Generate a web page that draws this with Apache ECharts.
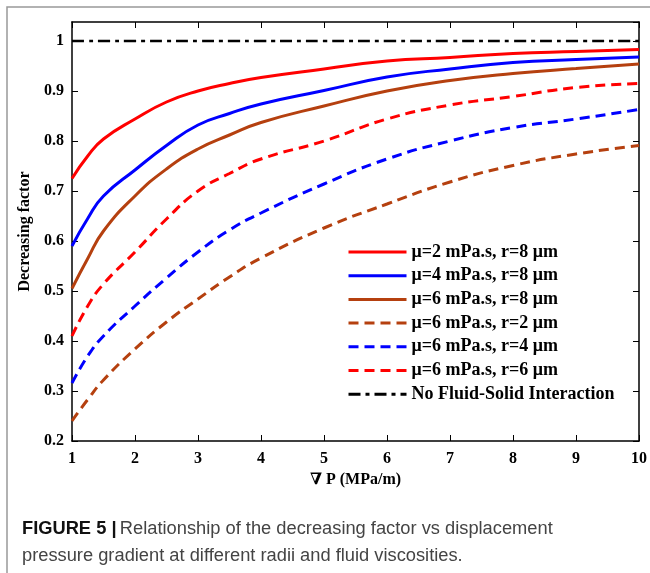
<!DOCTYPE html>
<html>
<head>
<meta charset="utf-8">
<script src="https://cdn.jsdelivr.net/npm/echarts@6/dist/echarts.min.js"></script>
<style>
html,body{margin:0;padding:0;background:#fff;}
#chart{width:650px;height:573px;}
</style>
</head>
<body>
<div id="chart"></div>
<script>
const xValues = [1, 1.25, 1.5, 2, 2.5, 3, 3.5, 4, 5, 6, 7, 8, 9, 10];
const mu2r8 = [0.725, 0.77, 0.804, 0.844, 0.878, 0.900, 0.915, 0.927, 0.944, 0.960, 0.967, 0.975, 0.979, 0.983];
const mu4r8 = [0.59, 0.645, 0.69, 0.742, 0.791, 0.832, 0.855, 0.874, 0.901, 0.928, 0.944, 0.957, 0.963, 0.968];
const mu6r8 = [0.505, 0.565, 0.62, 0.69, 0.744, 0.784, 0.812, 0.837, 0.870, 0.900, 0.921, 0.935, 0.945, 0.954];
const mu6r2 = [0.24, 0.283, 0.322, 0.384, 0.438, 0.484, 0.528, 0.566, 0.626, 0.674, 0.718, 0.751, 0.774, 0.791];
const mu6r4 = [0.316, 0.37, 0.41, 0.47, 0.526, 0.578, 0.622, 0.656, 0.714, 0.764, 0.800, 0.827, 0.844, 0.863];
const mu6r6 = [0.41, 0.47, 0.514, 0.578, 0.644, 0.70, 0.735, 0.764, 0.800, 0.844, 0.872, 0.889, 0.907, 0.915];
const noInteraction = [1, 1, 1, 1, 1, 1, 1, 1, 1, 1, 1, 1, 1, 1];
const seriesNames = [
  'μ=2 mPa.s, r=8 μm',
  'μ=4 mPa.s, r=8 μm',
  'μ=6 mPa.s, r=8 μm',
  'μ=6 mPa.s, r=2 μm',
  'μ=6 mPa.s, r=4 μm',
  'μ=6 mPa.s, r=6 μm',
  'No Fluid-Solid Interaction'
];
const xTicks = [1, 2, 3, 4, 5, 6, 7, 8, 9, 10];
const yTicks = [0.2, 0.3, 0.4, 0.5, 0.6, 0.7, 0.8, 0.9, 1];

const serif = "'Liberation Serif', 'DejaVu Serif', serif";
const sans = "'Liberation Sans', Arial, sans-serif";
const red = '#ff0000', blue = '#0000ff', brown = '#b5400f';

function mk(name, data, color, type, width) {
  return {
    name: name, type: 'line', smooth: true, symbol: 'none', showSymbol: false,
    data: xValues.map((x, i) => [x, data[i]]),
    lineStyle: { color: color, width: width, type: type },
    itemStyle: { color: color },
    z: 3
  };
}

const chart = echarts.init(document.getElementById('chart'), null, { renderer: 'canvas' });
chart.setOption({
  animation: false,
  backgroundColor: '#fff',
  grid: { left: 72, right: 10, top: 22, bottom: 132 },
  legend: {
    orient: 'vertical', left: 342, top: 238,
    itemWidth: 58, itemHeight: 14, itemGap: 5.7,
    data: seriesNames,
    itemStyle: { opacity: 0 },
    lineStyle: { width: 3 },
    textStyle: { fontFamily: serif, fontWeight: 'bold', fontSize: 18, lineHeight: 14, color: '#000' }
  },
  xAxis: [{
    type: 'value', min: 1, max: 10, interval: 1,
    name: '∇ P (MPa/m)', nameLocation: 'middle', nameGap: 24,
    nameTextStyle: { fontFamily: serif, fontWeight: 'bold', fontSize: 16, color: '#000' },
    axisLine: { lineStyle: { color: '#000', width: 1.5 } },
    axisTick: { inside: true, length: 6, lineStyle: { color: '#000' } },
    axisLabel: { fontFamily: serif, fontWeight: 'bold', fontSize: 16, color: '#000', margin: 10 },
    splitLine: { show: false }
  }, {
    type: 'value', min: 1, max: 10, interval: 1, position: 'top',
    axisLine: { lineStyle: { color: '#000', width: 1.5 } },
    axisTick: { inside: true, length: 6, lineStyle: { color: '#000' } },
    axisLabel: { show: false }, splitLine: { show: false }
  }],
  yAxis: [{
    type: 'value', min: 0.2, max: 1.038, interval: 0.1,
    name: 'Decreasing factor', nameLocation: 'middle', nameGap: 33, nameRotate: 90,
    nameTextStyle: { fontFamily: serif, fontWeight: 'bold', fontSize: 16, color: '#000' },
    axisLine: { show: true, lineStyle: { color: '#000', width: 1.5 } },
    axisTick: { show: true, inside: true, length: 6, lineStyle: { color: '#000' } },
    axisLabel: {
      fontFamily: serif, fontWeight: 'bold', fontSize: 16, color: '#000', margin: 8,
      showMaxLabel: false,
      formatter: v => (Math.abs(v - 1) < 1e-6 ? '1' : (Math.abs(v * 10 - Math.round(v * 10)) < 1e-6 ? v.toFixed(1) : ''))
    },
    splitLine: { show: false }
  }, {
    type: 'value', min: 0.2, max: 1.038, interval: 0.1, position: 'right',
    axisLine: { show: true, lineStyle: { color: '#000', width: 1.5 } },
    axisTick: { show: true, inside: true, length: 6, lineStyle: { color: '#000' } },
    axisLabel: { show: false }, splitLine: { show: false }
  }],
  series: [
    mk(seriesNames[0], mu2r8, red, 'solid', 3),
    mk(seriesNames[1], mu4r8, blue, 'solid', 3),
    mk(seriesNames[2], mu6r8, brown, 'solid', 3),
    mk(seriesNames[3], mu6r2, brown, [10, 6], 3),
    mk(seriesNames[4], mu6r4, blue, [10, 6], 3),
    mk(seriesNames[5], mu6r6, red, [10, 6], 3),
    mk(seriesNames[6], noInteraction, '#000', [12, 5, 4, 5], 2.5)
  ],
  graphic: [
    { type: 'rect', shape: { x: 7, y: 7, width: 700, height: 700 },
      style: { fill: 'none', stroke: '#999', lineWidth: 1.5 }, silent: true, z: -1 },
    { type: 'text', left: 22, top: 520,
      style: { rich: { b: { fontFamily: sans, fontWeight: 'bold', fontSize: 18.3, fill: '#111' },
                       n: { fontFamily: sans, fontSize: 18.3, fill: '#444' } },
               text: '{b|FIGURE 5 |} {n|Relationship of the decreasing factor vs displacement}' } },
    { type: 'text', left: 22, top: 547,
      style: { fontFamily: sans, fontSize: 18.3, fill: '#444',
               text: 'pressure gradient at different radii and fluid viscosities.' } }
  ]
});
</script>
</body>
</html>
